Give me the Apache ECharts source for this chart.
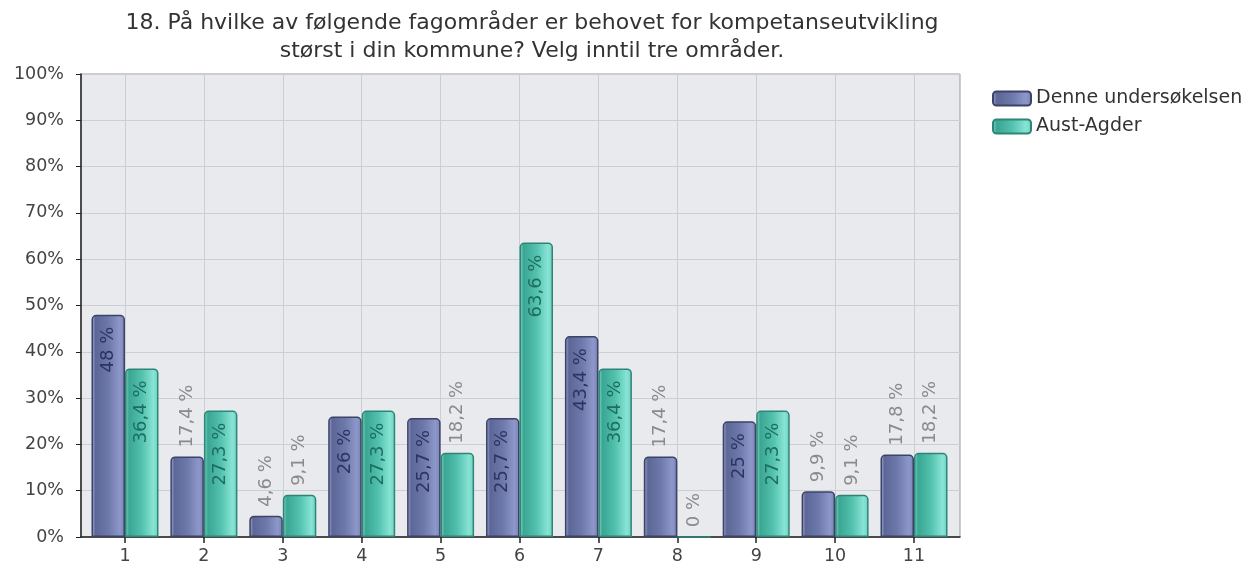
<!DOCTYPE html>
<html>
<head>
<meta charset="utf-8">
<script src="https://cdn.jsdelivr.net/npm/echarts@6/dist/echarts.min.js"></script>
<style>
html,body{margin:0;padding:0;background:#fff;}
#chart{width:1258px;height:573px;}
</style>
</head>
<body>
<div id="chart"></div>
<script>
const titleText = '18. På hvilke av følgende fagområder er behovet for kompetanseutvikling\nstørst i din kommune? Velg inntil tre områder.';
const categories = ['1','2','3','4','5','6','7','8','9','10','11'];
const seriesNames = ['Denne undersøkelsen','Aust-Agder'];
const denneValues = [48, 17.4, 4.6, 26, 25.7, 25.7, 43.4, 17.4, 25, 9.9, 17.8];
const austValues = [36.4, 27.3, 9.1, 27.3, 18.2, 63.6, 36.4, 0, 27.3, 9.1, 18.2];
const yTicks = [0,10,20,30,40,50,60,70,80,90,100];

const FONT = '"DejaVu Sans", Verdana, sans-serif';

function fmt(v){ return String(v).replace('.', ',') + ' %'; }

function makeData(vals, insideColor){
  return vals.map(v => {
    const inside = v >= 24;
    return {
      value: v,
      label: inside ? {
        position: 'insideTop', rotate: 90, align: 'right', verticalAlign: 'middle',
        distance: 12, color: insideColor
      } : {
        position: 'top', rotate: 90, align: 'left', verticalAlign: 'middle',
        distance: 9, color: '#8a8a8a'
      }
    };
  });
}

const blueGrad = new echarts.graphic.LinearGradient(0,0,1,0,[
  {offset:0, color:'#a9b0d6'},{offset:0.12, color:'#5c6797'},
  {offset:0.5, color:'#6d79aa'},{offset:0.85, color:'#8e97c9'},{offset:1, color:'#7881b4'}]);
const tealGrad = new echarts.graphic.LinearGradient(0,0,1,0,[
  {offset:0, color:'#8cdccd'},{offset:0.12, color:'#3aa693'},
  {offset:0.5, color:'#52c1ad'},{offset:0.85, color:'#88e4d5'},{offset:1, color:'#6ccfbf'}]);

const chart = echarts.init(document.getElementById('chart'), null, {renderer:'canvas'});
chart.setOption({
  animation: false,
  backgroundColor: '#fff',
  title: {
    text: titleText,
    left: 527, top: 4, textAlign: 'center',
    textStyle: {fontFamily: FONT, fontSize: 22, fontWeight: 'normal', color: '#333', lineHeight: 28}
  },
  legend: {
    orient: 'vertical', left: 987, top: 84, itemWidth: 38, itemHeight: 14, itemGap: 9,
    icon: 'roundRect',
    textStyle: {fontFamily: FONT, fontSize: 19, color: '#333'},
    data: seriesNames
  },
  grid: [
    {left: 81, right: 298, top: 74, bottom: 36, show: true, backgroundColor: '#e8eaee', borderColor: '#9a9a9a', borderWidth: 1},
    {left: 85.55, right: 304.55, top: 74, bottom: 36}
  ],
  xAxis: [
    {gridIndex: 0, type: 'value', min: 0, max: 1, axisLine: {show: true, lineStyle: {color: '#222', width: 1.5}},
      axisTick: {show: false}, axisLabel: {show: false}, splitLine: {show: false}},
    {gridIndex: 1, type: 'category', data: categories,
      axisLine: {show: false},
      axisTick: {show: true, alignWithLabel: true, length: 6, lineStyle: {color: '#222', width: 1.5}},
      axisLabel: {fontFamily: FONT, fontSize: 17.5, color: '#444', margin: 10},
      splitLine: {show: true, alignWithLabel: true, lineStyle: {color: '#cbced4', width: 1}}}
  ],
  yAxis: [
    {gridIndex: 0, type: 'value', min: 0, max: 100, interval: 10,
      axisLine: {show: true, lineStyle: {color: '#222', width: 1.5}},
      axisTick: {show: true, length: 5, lineStyle: {color: '#222'}},
      axisLabel: {fontFamily: FONT, fontSize: 17.5, color: '#444', margin: 17, formatter: '{value}%'},
      splitLine: {show: true, lineStyle: {color: '#cbced4', width: 1}}},
    {gridIndex: 1, type: 'value', min: 0, max: 100, show: false, splitLine: {show: false}}
  ],
  series: [
    {name: seriesNames[0], type: 'bar', xAxisIndex: 1, yAxisIndex: 1, barWidth: 33.5, barGap: '0%',
      data: makeData(denneValues, '#2b3563'),
      itemStyle: {color: blueGrad, borderColor: '#3b4366', borderWidth: 1.5, borderRadius: [4,4,0,0]},
      label: {show: true, formatter: p => fmt(p.value), fontFamily: FONT, fontSize: 18}},
    {name: seriesNames[1], type: 'bar', xAxisIndex: 1, yAxisIndex: 1, barWidth: 33.5, barGap: '0%',
      data: makeData(austValues, '#1d6e60'),
      itemStyle: {color: tealGrad, borderColor: '#2e8575', borderWidth: 1.5, borderRadius: [4,4,0,0]},
      label: {show: true, formatter: p => fmt(p.value), fontFamily: FONT, fontSize: 18}}
  ]
});
</script>
</body>
</html>
